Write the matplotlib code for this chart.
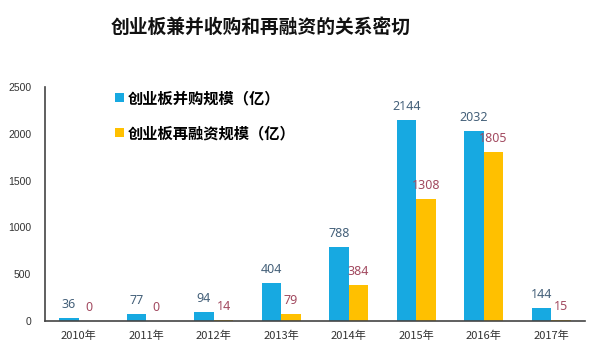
import matplotlib
matplotlib.use("Agg")
import matplotlib.pyplot as plt
import numpy as np

plt.rcParams['font.family'] = ['Noto Sans CJK SC', 'DejaVu Sans']

categories = ["2010年", "2011年", "2012年", "2013年", "2014年", "2015年", "2016年", "2017年"]
ma_values = [36, 77, 94, 404, 788, 2144, 2032, 144]
refi_values = [0, 0, 14, 79, 384, 1308, 1805, 15]
yticks = [0, 500, 1000, 1500, 2000, 2500]
title = "创业板兼并收购和再融资的关系密切"
series_names = ["创业板并购规模（亿）", "创业板再融资规模（亿）"]

blue = "#17A9E1"
yellow = "#FFC000"
blue_lbl = "#45617A"
yellow_lbl = "#A24A60"

fig = plt.figure(figsize=(6.0, 3.57), dpi=100)
ax = fig.add_axes([45/600, 1-321/357, 540/600, 234/357])

x = np.arange(len(categories))
w = 0.29
b1 = ax.bar(x - w/2, ma_values, width=w, color=blue, label=series_names[0])
b2 = ax.bar(x + w/2, refi_values, width=w, color=yellow, label=series_names[1])

for xi, v in zip(x, ma_values):
    ax.annotate(str(v), (xi - w/2, v), xytext=(0, 5), textcoords="offset points",
                ha="center", va="bottom", fontsize=9, color=blue_lbl, family=['Noto Sans', 'DejaVu Sans'])
for xi, v in zip(x, refi_values):
    ax.annotate(str(v), (xi + w/2, v), xytext=(0, 5), textcoords="offset points",
                ha="center", va="bottom", fontsize=9, color=yellow_lbl, family=['Noto Sans', 'DejaVu Sans'])

ax.set_xlim(-0.5, len(categories) - 0.5)
ax.set_ylim(0, 2500)
ax.set_yticks(yticks)
ax.set_yticklabels([str(t) for t in yticks], family=['Liberation Sans'], fontsize=7.5, color="#333333")
ax.set_xticks(x)
ax.set_xticklabels(categories, fontsize=8, color="#333333")
ax.tick_params(axis='both', length=0)
ax.tick_params(axis='y', pad=10)
ax.tick_params(axis='x', pad=7)
for s in ["top", "right"]:
    ax.spines[s].set_visible(False)
for s in ["left", "bottom"]:
    ax.spines[s].set_color("#444444")
    ax.spines[s].set_linewidth(1.2)

leg = ax.legend(handles=[b1, b2], loc="upper left", bbox_to_anchor=(109/600, 1-84/357),
                bbox_transform=fig.transFigure, frameon=False, handlelength=0.55, handleheight=0.55,
                handletextpad=0.25, labelspacing=1.25, borderaxespad=0,
                prop={'family': ['Noto Sans CJK SC', 'DejaVu Sans'], 'weight': 'bold', 'size': 11})

fig.text(261/600, 1-27/357, title, ha="center", va="center", fontsize=13.5, fontweight="bold", color="#111111")

fig.savefig("out.png", dpi=100, facecolor="white")
